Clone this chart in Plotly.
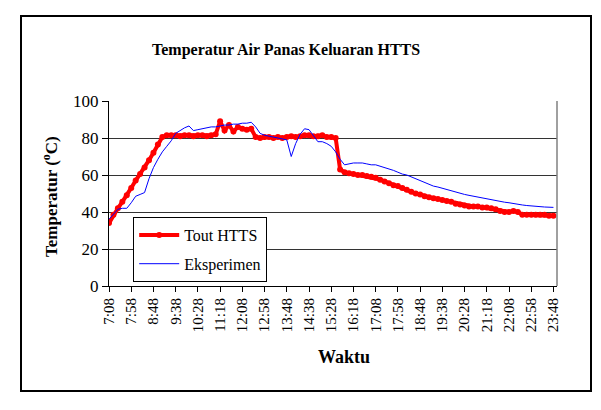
import plotly.graph_objects as go

# sampling every 10 minutes starting 7:08
start_label = "7:08"
step_min = 10

tout_htts = [34, 38.5, 42, 45.5, 49, 53, 57, 60.5, 64, 68,
             72, 76.5, 80.5, 81.5, 81.5, 81.5, 81, 81.5, 81.5, 81,
             81.5, 81.5, 81, 81.5, 82, 89, 84, 87, 83.5, 86,
             85, 84.5, 85, 80.5, 80, 80.5, 80.5, 80, 80.5, 80,
             80.5, 81, 80.5, 81, 81.5, 81.5, 81, 81, 81.5, 80.5,
             80.5, 80, 63, 61.5, 61, 60.5, 60, 60, 59.5, 59,
             58.5, 57.5, 56.5, 55.5, 54.5, 54, 53, 52, 51, 50,
             49.5, 48.5, 48, 47.5, 47, 46.5, 46, 45.5, 44.5, 44,
             43.5, 43, 43, 43, 42.5, 42.5, 42, 41.5, 40.5, 40,
             40, 40.5, 40, 38.5, 38.5, 38.5, 38.5, 38.5, 38.5, 38,
             38]

eksperimen = [36, 39, 41.5, 42, 42, 45, 48.5, 49.5, 50.5, 58,
              64, 68.5, 72.5, 75.5, 78.5, 82.5, 84, 85.5, 86.5, 84,
              84.5, 85, 85.5, 86, 86, 86.5, 87, 87, 87.5, 87.5,
              88, 88, 88.5, 86, 82.5, 81.5, 81, 80.5, 80, 79.5,
              79, 70, 77, 82, 85, 84.5, 81.5, 78, 78, 77,
              75.5, 72.5, 68.5, 65.5, 66, 66.5, 66.5, 66.5, 66, 65.5,
              65.5, 64.8, 64, 63, 62.5, 61.5, 60.5, 60, 59, 58,
              57, 56, 55, 54, 53.5, 52.8, 52, 51.5, 50.8, 50,
              49.5, 49, 48.5, 48, 47.5, 47, 46.5, 46, 45.8, 45.3,
              45, 44.5, 44.2, 43.8, 43.5, 43.2, 43, 42.8, 42.7, 42.6,
              42.5]

tick_labels = ["7:08", "7:58", "8:48", "9:38", "10:28", "11:18", "12:08",
               "12:58", "13:48", "14:38", "15:28", "16:18", "17:08", "17:58",
               "18:48", "19:38", "20:28", "21:18", "22:08", "22:58", "23:48"]


def to_min(lbl):
    h, m = lbl.split(":")
    return int(h) * 60 + int(m)


t0 = to_min(start_label)
x_vals = [i * step_min for i in range(len(tout_htts))]
tick_vals = [to_min(l) - t0 for l in tick_labels]

FONT = "Liberation Serif"

fig = go.Figure()
fig.add_trace(go.Scatter(
    x=x_vals, y=tout_htts, name="Tout HTTS", mode="lines+markers",
    line=dict(color="#FF0000", width=4),
    marker=dict(color="#FF0000", size=6, symbol="circle"),
    legendgroup="a"))
fig.add_trace(go.Scatter(
    x=x_vals, y=eksperimen, name="Eksperimen", mode="lines",
    line=dict(color="#0000FF", width=1),
    legendgroup="b"))

fig.update_layout(
    width=601, height=410,
    margin=dict(l=109, r=44, t=101, b=124),
    paper_bgcolor="white", plot_bgcolor="white",
    font=dict(family=FONT, size=14, color="black"),
    showlegend=True,
    legend=dict(x=0.054, y=0.373, xanchor="left", yanchor="top",
                bordercolor="black", borderwidth=1, bgcolor="white",
                font=dict(family=FONT, size=16, color="black"),
                tracegroupgap=5, itemwidth=40),
    xaxis=dict(range=[0, 1008], tickmode="array", tickvals=tick_vals,
               ticktext=tick_labels, tickangle=-90, showgrid=False,
               showline=True, linecolor="black", linewidth=1,
               ticks="outside", ticklen=5, tickcolor="black",
               tickfont=dict(family=FONT, size=15), zeroline=False),
    yaxis=dict(range=[0, 100], tickvals=[0, 20, 40, 60, 80, 100],
               showgrid=True, gridcolor="#333333", gridwidth=1,
               showline=True, linecolor="black", linewidth=1,
               ticks="outside", ticklen=6, tickcolor="black",
               tickfont=dict(family=FONT, size=17), zeroline=False),
    shapes=[
        # plot-area right border (gray)
        dict(type="line", xref="paper", yref="paper", x0=1, x1=1, y0=0, y1=1,
             line=dict(color="#808080", width=1.5)),
        # outer chart frame
        dict(type="rect", xref="paper", yref="paper",
             x0=(21 - 109) / 448, x1=(591 - 109) / 448,
             y0=(286 - 391) / 185, y1=(286 - 16) / 185,
             line=dict(color="black", width=2), layer="below"),
    ],
    annotations=[
        dict(text="<b>Temperatur Air Panas Keluaran HTTS</b>",
             xref="paper", yref="paper", x=(286 - 109) / 448,
             y=(286 - 50) / 185, showarrow=False,
             font=dict(family=FONT, size=16, color="black"),
             xanchor="center", yanchor="middle"),
        dict(text="<b>Temperatur (<sup>o</sup>C)</b>", textangle=-90,
             xref="paper", yref="paper", x=(50 - 109) / 448,
             y=(286 - 197) / 185, showarrow=False,
             font=dict(family=FONT, size=17, color="black"),
             xanchor="center", yanchor="middle"),
        dict(text="<b>Waktu</b>",
             xref="paper", yref="paper", x=(344 - 109) / 448,
             y=(286 - 357) / 185, showarrow=False,
             font=dict(family=FONT, size=18, color="black"),
             xanchor="center", yanchor="middle"),
    ],
)

fig.write_html("out.html")
